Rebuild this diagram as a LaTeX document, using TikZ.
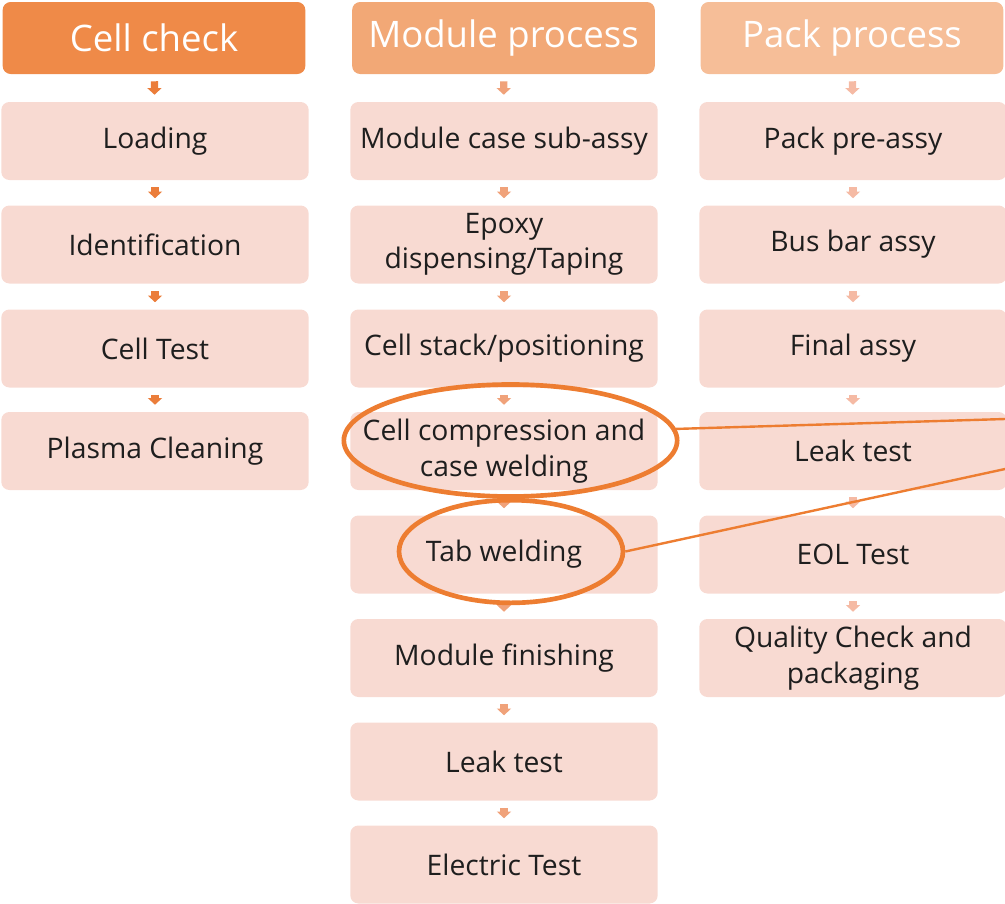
\documentclass[tikz,border=0pt]{standalone}
\usepackage{fontspec}
\setmainfont{Open Sans}
\usetikzlibrary{shapes.geometric,arrows.meta}
\definecolor{hA}{RGB}{239,138,72}
\definecolor{hB}{RGB}{242,168,118}
\definecolor{hC}{RGB}{246,190,152}
\definecolor{boxpink}{RGB}{248,218,210}
\definecolor{aA}{RGB}{235,125,58}
\definecolor{aB}{RGB}{240,162,122}
\definecolor{aC}{RGB}{245,186,164}
\definecolor{hl}{RGB}{237,125,49}
\definecolor{txt}{RGB}{30,30,30}
\begin{document}
\begin{tikzpicture}[x=0.75pt,y=-0.75pt,
  stepbox/.style={fill=boxpink, rounded corners=6pt, minimum width=230.5pt, minimum height=58.5pt,
    inner sep=0pt, align=center, text=txt, font=\fontsize{21.2}{26.5}\selectfont},
  headbox/.style={rounded corners=6pt, minimum width=227pt, minimum height=54pt,
    inner sep=0pt, align=center, text=white, font=\fontsize{27.4}{32}\selectfont},
  flow/.style={line width=5.5pt, -{Triangle[width=10.5pt,length=5pt]}, shorten <=5.25pt, shorten >=5.25pt},
  ring/.style={ellipse, draw=hl, line width=3.5pt, inner sep=0pt},
  link/.style={draw=hl, line width=1.8pt}]
\useasboundingbox (0,0) rectangle (1005,903);
% column 1
\node[headbox, fill=hA] (c1h) at (154,38) {Cell check};
\node[stepbox] (c1a) at (155,141) {Loading};
\node[stepbox] (c1b) at (155,244.5) {Identification};
\node[stepbox] (c1c) at (155,348.5) {Cell Test};
\node[stepbox] (c1d) at (155,451) {Plasma Cleaning};
% column 2
\node[headbox, fill=hB] (c2h) at (503.5,38) {Module process};
\node[stepbox] (c2a) at (504,141) {Module case sub-assy};
\node[stepbox] (c2b) at (504,244.5) {Epoxy\\dispensing/Taping};
\node[stepbox] (c2c) at (504,348.5) {Cell stack/positioning};
\node[stepbox] (c2d) at (504,451) {Cell compression and\\case welding};
\node[stepbox] (c2e) at (504,554.5) {Tab welding};
\node[stepbox] (c2f) at (504,658) {Module finishing};
\node[stepbox] (c2g) at (504,761.5) {Leak test};
\node[stepbox] (c2h2) at (504,864.5) {Electric Test};
% column 3
\node[headbox, fill=hC] (c3h) at (852,38) {Pack process};
\node[stepbox] (c3a) at (853,141) {Pack pre-assy};
\node[stepbox] (c3b) at (853,244.5) {Bus bar assy};
\node[stepbox] (c3c) at (853,348.5) {Final assy};
\node[stepbox] (c3d) at (853,451) {Leak test};
\node[stepbox] (c3e) at (853,554.5) {EOL Test};
\node[stepbox] (c3f) at (853,658) {Quality Check and\\packaging};
% arrows
\foreach \a/\b in {c1h/c1a,c1a/c1b,c1b/c1c,c1c/c1d}
  \draw[flow, draw=aA, fill=aA] (\a) -- (\b);
\foreach \a/\b in {c2h/c2a,c2a/c2b,c2b/c2c,c2c/c2d,c2d/c2e,c2e/c2f,c2f/c2g,c2g/c2h2}
  \draw[flow, draw=aB, fill=aB] (\a) -- (\b);
\foreach \a/\b in {c3h/c3a,c3a/c3b,c3b/c3c,c3c/c3d,c3d/c3e,c3e/c3f}
  \draw[flow, draw=aC, fill=aC] (\a) -- (\b);
% highlights
\node[ring, minimum width=250pt, minimum height=84pt] (e1) at (510.5,440.5) {};
\node[ring, minimum width=168pt, minimum height=77pt] (e2) at (511,551.5) {};
\coordinate (t1) at (1005,419);
\coordinate (t2) at (1005,469);
\draw[link] (e1.4) -- (t1);
\draw[link] (e2.east) -- (t2);
\end{tikzpicture}
\end{document}
